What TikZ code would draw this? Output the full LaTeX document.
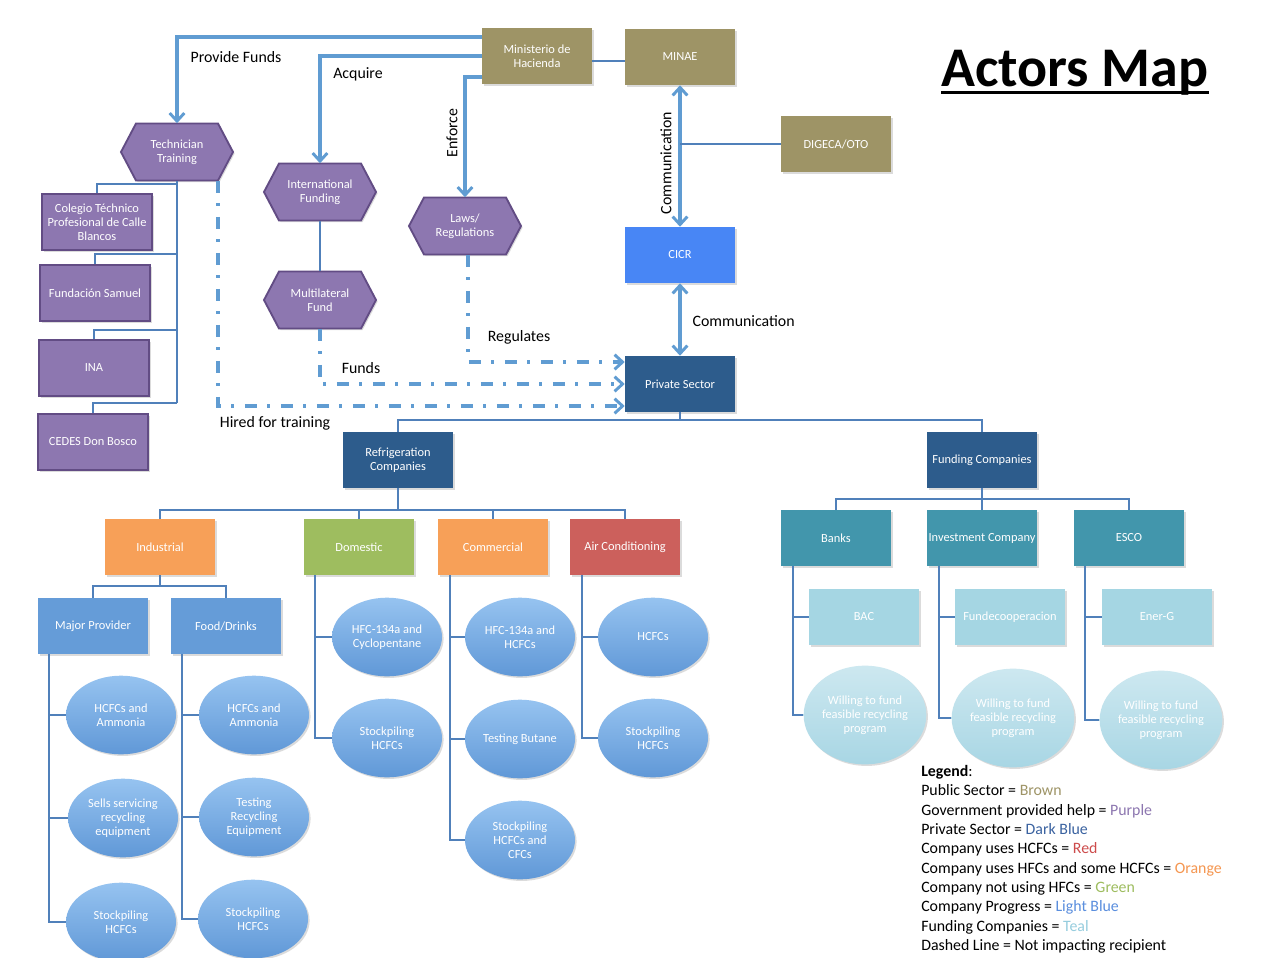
\documentclass[tikz,border=0pt]{standalone}
\usepackage{fontspec}
\setmainfont{Carlito}
\usetikzlibrary{arrows.meta,shapes.geometric,shadows,backgrounds}
\definecolor{brownbox}{RGB}{158,148,102}
\definecolor{purplebox}{RGB}{141,119,176}
\definecolor{purpleedge}{RGB}{98,76,132}
\definecolor{cicrblue}{RGB}{72,134,245}
\definecolor{darkbluebox}{RGB}{45,92,140}
\definecolor{orangebox}{RGB}{247,160,88}
\definecolor{greenbox}{RGB}{158,189,95}
\definecolor{redbox}{RGB}{204,96,92}
\definecolor{progressbox}{RGB}{101,156,216}
\definecolor{tealbox}{RGB}{66,150,172}
\definecolor{lighttealbox}{RGB}{165,214,227}
\definecolor{linec}{RGB}{80,128,186}
\definecolor{arrowc}{RGB}{96,156,210}
\definecolor{elltop}{RGB}{150,195,240}
\definecolor{ellbot}{RGB}{96,152,215}
\definecolor{felltop}{RGB}{205,232,240}
\definecolor{fellbot}{RGB}{168,214,228}
\definecolor{legdb}{RGB}{58,98,160}
\definecolor{leglb}{RGB}{90,142,222}
\definecolor{legteal}{RGB}{150,205,222}
\definecolor{legorange}{RGB}{245,150,80}
\definecolor{legred}{RGB}{205,75,75}
\newcommand\bxfont{\fontsize{9.3}{10.6}\selectfont}
\newcommand\hexat[1]{\path[hexst] ([shift={(-56,0)}]#1) -- ([shift={(-41,-28.5)}]#1) -- ([shift={(41,-28.5)}]#1) -- ([shift={(56,0)}]#1) -- ([shift={(41,28.5)}]#1) -- ([shift={(-41,28.5)}]#1) -- cycle;}
\begin{document}
\begin{tikzpicture}[x=0.75pt,y=-0.75pt,
  shad/.style={drop shadow={opacity=0.28,shadow xshift=1.2pt,shadow yshift=-1.2pt}},
  box/.style={rectangle, minimum width=82.5pt, minimum height=42pt, inner sep=1pt,
    align=center, text=white, font=\bxfont, shad},
  brownb/.style={box, fill=brownbox},
  pbox/.style={box, fill=purplebox, draw=purpleedge, line width=1.4pt},
  hexnode/.style={rectangle, minimum width=84pt, minimum height=42.75pt, inner sep=1pt,
    align=center, text=white, font=\bxfont},
  hexst/.style={fill=purplebox, draw=purpleedge, line width=1.4pt, shad},
  ell/.style={ellipse, minimum width=82.5pt, minimum height=59pt, inner sep=0pt,
    align=center, text=white, font=\bxfont, top color=elltop, bottom color=ellbot, shad},
  fell/.style={ellipse, minimum width=92pt, minimum height=74pt, inner sep=0pt,
    align=center, text=white, font=\bxfont, top color=felltop, bottom color=fellbot, shad},
  tline/.style={draw=linec, line width=1.1pt},
  farrow/.style={draw=arrowc, line width=3pt, -{Straight Barb[length=6pt,width=11pt,line width=2.2pt]}},
  barrow/.style={draw=arrowc, line width=3pt, {Straight Barb[length=6pt,width=11pt,line width=2.2pt]}-{Straight Barb[length=6pt,width=11pt,line width=2.2pt]}},
  darrow/.style={draw=arrowc, line width=3.2pt, dash pattern=on 9pt off 8pt on 2pt off 8pt,
    -{Straight Barb[length=6pt,width=11pt,line width=2.2pt]}},
  lbl/.style={font=\fontsize{11.9}{13.5}\selectfont, inner sep=1pt},
  legend/.style={font=\fontsize{11.9}{14.5}\selectfont, align=left, inner sep=0pt}
]
\useasboundingbox (0,0) rectangle (1280,957);
\fill[white] (0,0) rectangle (1280,957);

% hexagon shapes
\hexat{177,152}
\hexat{320,192}
\hexat{465,226}
\hexat{320,300}

% public sector
\node[brownb] (mh) at (537,56) {Ministerio de\\Hacienda};
\node[brownb] (minae) at (680,57) {MINAE};
\node[brownb] (dig) at (836,144) {DIGECA/OTO};
\node[box, fill=cicrblue] (cicr) at (680,255) {CICR};
\node[box, fill=darkbluebox] (ps) at (680,384) {Private Sector};

% government help
\node[hexnode] (tt) at (177,152) {Technician\\Training};
\node[hexnode] (if) at (320,192) {International\\Funding};
\node[hexnode] (laws) at (465,226) {Laws/\\Regulations};
\node[hexnode] (mf) at (320,300) {Multilateral\\Fund};
\node[pbox] (col) at (97,222) {Colegio Téchnico\\Profesional de Calle\\Blancos};
\node[pbox] (fs) at (95,293) {Fundación Samuel};
\node[pbox] (ina) at (94,368) {INA};
\node[pbox] (cedes) at (93,442) {CEDES Don Bosco};

% private sector tree
\node[box, fill=darkbluebox] (rc) at (398,460) {Refrigeration\\Companies};
\node[box, fill=darkbluebox] (fc) at (982,460) {Funding Companies};
\node[box, fill=orangebox] (ind) at (160,547) {Industrial};
\node[box, fill=greenbox] (dom) at (359,547) {Domestic};
\node[box, fill=orangebox] (com) at (493,547) {Commercial};
\node[box, fill=redbox] (ac) at (625,547) {Air Conditioning};
\node[box, fill=progressbox] (mp) at (93,626) {Major Provider};
\node[box, fill=progressbox] (fd) at (226,626) {Food/Drinks};

\node[ell] (mp1) at (121,715) {HCFCs and\\Ammonia};
\node[ell] (mp2) at (123,818) {Sells servicing\\recycling\\equipment};
\node[ell] (mp3) at (121,922) {Stockpiling\\HCFCs};
\node[ell] (fd1) at (254,715) {HCFCs and\\Ammonia};
\node[ell] (fd2) at (254,817) {Testing\\Recycling\\Equipment};
\node[ell] (fd3) at (253,919) {Stockpiling\\HCFCs};
\node[ell] (dom1) at (387,637) {HFC-134a and\\Cyclopentane};
\node[ell] (dom2) at (387,738) {Stockpiling\\HCFCs};
\node[ell] (com1) at (520,637) {HFC-134a and\\HCFCs};
\node[ell] (com2) at (520,739) {Testing Butane};
\node[ell] (com3) at (520,840) {Stockpiling\\HCFCs and\\CFCs};
\node[ell] (ac1) at (653,637) {HCFCs};
\node[ell] (ac2) at (653,738) {Stockpiling\\HCFCs};

\node[box, fill=tealbox] (banks) at (836,538) {Banks};
\node[box, fill=tealbox] (inv) at (982,538) {Investment Company};
\node[box, fill=tealbox] (esco) at (1129,538) {ESCO};
\node[box, fill=lighttealbox] (bac) at (864,617) {BAC};
\node[box, fill=lighttealbox] (fun) at (1010,617) {Fundecooperacion};
\node[box, fill=lighttealbox] (ener) at (1157,617) {Ener-G};
\node[fell] (w1) at (865,715) {Willing to fund\\feasible recycling\\program};
\node[fell] (w2) at (1013,718) {Willing to fund\\feasible recycling\\program};
\node[fell] (w3) at (1161,720) {Willing to fund\\feasible recycling\\program};

% thick arrows from Ministerio
\draw[farrow] (mh.west |- 0,37) -| (tt.north);
\draw[farrow] (mh.west) -| (if.north);
\draw[farrow] (mh.west |- 0,77) -| (laws.north);
\draw[tline] (mh.east |- 0,61) -- (minae.west |- 0,61);
\draw[barrow] (minae.south) -- (cicr.north);
\draw[tline] (dig.west) -- (dig.west -| minae.south);
\draw[barrow] (cicr.south) -- (ps.north);

% dashed arrows
\draw[darrow] (laws.south -| 468,0) |- (ps.west |- 0,362);
\draw[darrow] (mf.south) |- (ps.west);
\draw[darrow] (tt.south -| 218,0) |- (ps.west |- 0,406);

% technician training tree
\coordinate (ttbus) at (tt.south |- 0,403);
\draw[tline] (tt.south) -- (ttbus);
\draw[tline] (tt.south |- 0,184) -| (col.north);
\draw[tline] (tt.south |- 0,254) -| (fs.north);
\draw[tline] (tt.south |- 0,330) -| (ina.north);
\draw[tline] (ttbus) -| (cedes.north);
\draw[tline] (if.south) -- (mf.north);

% private sector tree
\draw[tline] (ps.south) -- (ps.south |- 0,420);
\draw[tline] (rc.north) |- (fc.north |- 0,420) -- (fc.north);
\draw[tline] (rc.south) -- (rc.south |- 0,510);
\draw[tline] (ind.north) |- (ac.north |- 0,510) -- (ac.north);
\draw[tline] (dom.north) -- (dom.north |- 0,510);
\draw[tline] (com.north) -- (com.north |- 0,510);
\draw[tline] (ind.south) -- (ind.south |- 0,586);
\draw[tline] (mp.north) |- (fd.north |- 0,586) -- (fd.north);

\coordinate (mpsp) at (mp.south -| 49,0);
\draw[tline] (mpsp) |- (mp3.west);
\draw[tline] (mpsp |- mp1.west) -- (mp1.west);
\draw[tline] (mpsp |- mp2.west) -- (mp2.west);
\coordinate (fdsp) at (fd.south -| 182,0);
\draw[tline] (fdsp) |- (fd3.west);
\draw[tline] (fdsp |- fd1.west) -- (fd1.west);
\draw[tline] (fdsp |- fd2.west) -- (fd2.west);
\coordinate (domsp) at (dom.south -| 315,0);
\draw[tline] (domsp) |- (dom2.west);
\draw[tline] (domsp |- dom1.west) -- (dom1.west);
\coordinate (comsp) at (com.south -| 450,0);
\draw[tline] (comsp) |- (com3.west);
\draw[tline] (comsp |- com1.west) -- (com1.west);
\draw[tline] (comsp |- com2.west) -- (com2.west);
\coordinate (acsp) at (ac.south -| 582,0);
\draw[tline] (acsp) |- (ac2.west);
\draw[tline] (acsp |- ac1.west) -- (ac1.west);

\draw[tline] (fc.south) -- (fc.south |- 0,499);
\draw[tline] (banks.north) |- (esco.north |- 0,499) -- (esco.north);
\draw[tline] (inv.north) -- (inv.north |- 0,499);
\coordinate (bsp) at (banks.south -| 793,0);
\draw[tline] (bsp) |- (w1.west);
\draw[tline] (bsp |- bac.west) -- (bac.west);
\coordinate (isp) at (inv.south -| 939,0);
\draw[tline] (isp) |- (w2.west);
\draw[tline] (isp |- fun.west) -- (fun.west);
\coordinate (esp) at (esco.south -| 1085,0);
\draw[tline] (esp) |- (w3.west);
\draw[tline] (esp |- ener.west) -- (ener.west);

% labels
\node[lbl] (lpf) at (236,57) {Provide Funds};
\node[lbl] (lacq) at (358,74) {Acquire};
\node[lbl, rotate=90] (lenf) at (452,133) {Enforce};
\node[lbl, rotate=90] (lcom1) at (666,163) {Communication};
\node[lbl, anchor=west] (lcom2) at (691,321) {Communication};
\node[lbl] (lreg) at (519,337) {Regulates};
\node[lbl] (lfunds) at (361,368) {Funds};
\node[lbl] (lhired) at (275,423) {Hired for training};

% title
\node[font=\bfseries\fontsize{42}{44}\selectfont, anchor=base west, inner sep=0pt] (title) at (941,86) {Actors Map};
\draw[line width=2.2pt] ([yshift=-5pt]title.base west) -- ([yshift=-5pt]title.base east);

% legend
\node[legend, anchor=north west] (leg) at (921,765) {\textbf{Legend}:\\
Public Sector = \textcolor{brownbox}{Brown}\\
Government provided help = \textcolor{purplebox}{Purple}\\
Private Sector = \textcolor{legdb}{Dark Blue}\\
Company uses HCFCs = \textcolor{legred}{Red}\\
Company uses HFCs and some HCFCs = \textcolor{legorange}{Orange}\\
Company not using HFCs = \textcolor{greenbox}{Green}\\
Company Progress = \textcolor{leglb}{Light Blue}\\
Funding Companies = \textcolor{legteal}{Teal}\\
Dashed Line = Not impacting recipient};
\end{tikzpicture}
\end{document}
